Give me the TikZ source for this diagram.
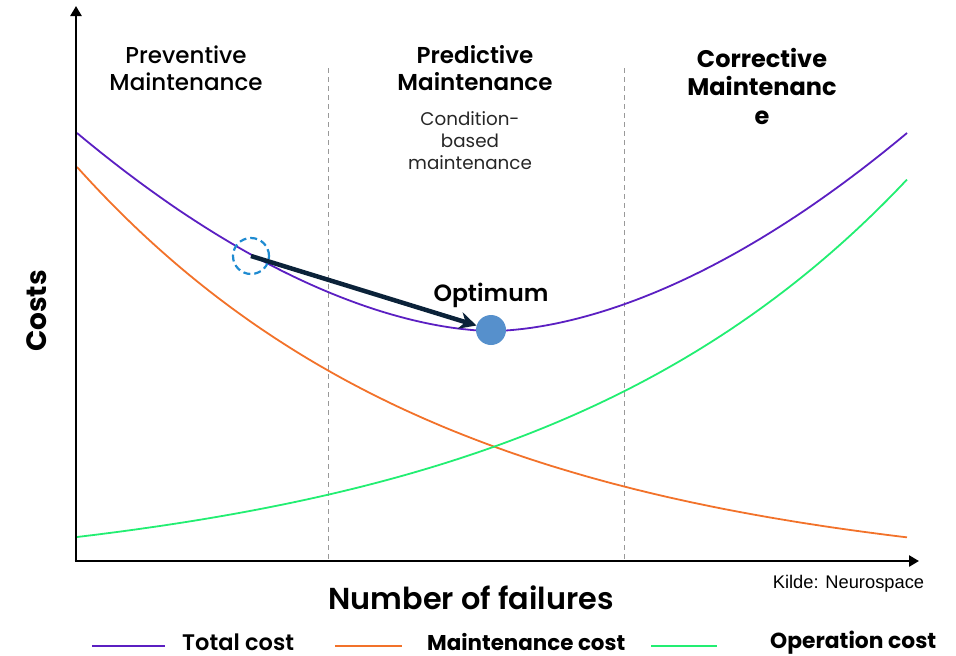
\documentclass[tikz,border=0pt]{standalone}
\usepackage{fontspec}
\setmainfont{Poppins}
\newfontfamily\popmed{Poppins Medium}
\newfontfamily\popsemi{Poppins SemiBold}
\newfontfamily\popbold{Poppins Bold}
\newfontfamily\arialfont{Liberation Sans}
\usetikzlibrary{arrows.meta}
\definecolor{totc}{HTML}{5B1FC2}
\definecolor{mainc}{HTML}{F2722A}
\definecolor{opc}{HTML}{22EE72}
\definecolor{navy}{HTML}{0B2239}
\definecolor{dashblue}{HTML}{1F8BD1}
\definecolor{dotblue}{HTML}{5690CC}
\begin{document}
\begin{tikzpicture}[x=1pt,y=-1pt,
  axis/.style={line width=2.6pt,-{Triangle[length=10pt,width=11pt]}},
  sep/.style={draw=gray!80,line width=0.9pt,dash pattern=on 5pt off 4pt},
  curve/.style={line width=1.8pt},
  head/.style={align=center,inner sep=0pt},
  sub/.style={align=center,font=\fontsize{18.3}{22}\selectfont,text=black!85,inner sep=0pt},
  leg/.style={line width=1.8pt},
  legtext/.style={inner sep=0pt}]
\useasboundingbox (0,0) rectangle (956,656);
% separators
\coordinate (s1t) at (328,68); \coordinate (s1b) at (328,561);
\coordinate (s2t) at (624,68); \coordinate (s2b) at (624,561);
\draw[sep] (s1t) -- (s1b);
\draw[sep] (s2t) -- (s2b);
% curves
\draw[curve,mainc] plot[domain=77:907,samples=120] (\x,{582-415*exp(-0.002689*(\x-77))});
\draw[curve,opc] plot[domain=77:907,samples=120] (\x,{582-45*exp(0.002647*(\x-77))});
\draw[curve,totc] plot[domain=77:907,samples=167] (\x,{331-39*pow((abs(\x-492)+0.01)/164,1.75)});
% axes
\coordinate (o) at (76,561);
\coordinate (ytop) at (76,6);
\coordinate (xend) at (919,561);
\draw[axis] (o) -- (ytop);
\draw[axis] ([xshift=-1.3pt]o) -- (xend);
% headings
\node[head,font=\popmed\fontsize{23}{27}\selectfont] (prev) at (186,68) {Preventive\\Maintenance};
\node[head,font=\popsemi\fontsize{23}{27}\selectfont] (pred) at (475,68) {Predictive\\Maintenance};
\node[sub] (cond) at (470,141) {Condition-\\based\\maintenance};
\node[head,font=\popbold\fontsize{24}{28.5}\selectfont] (corr) at (762,86) {Corrective\\Maintenanc\\e};
% optimum
\node[circle,draw=dashblue,dash pattern=on 7pt off 4pt,line width=2.2pt,minimum size=36pt,inner sep=0pt] (from) at (251,256) {};
\node[circle,fill=dotblue,minimum size=30pt,inner sep=0pt] (opt) at (491,330) {};
\draw[navy,line width=4.5pt,-{Stealth[length=17pt,width=17pt]}] (from.center) -- (opt);
\node[font=\popsemi\fontsize{23.5}{26}\selectfont,inner sep=0pt] (optl) at (491,295) {Optimum};
% axis labels
\node[font=\popbold\fontsize{28}{30}\selectfont,rotate=90,inner sep=0pt] (ylab) at (37,311) {Costs};
\node[font=\popsemi\fontsize{30.3}{34}\selectfont,inner sep=0pt] (xlab) at (471,598) {Number of failures};
\node[font=\arialfont\fontsize{18.3}{20}\selectfont,inner sep=0pt] (kilde) at (848.5,584) {Kilde: Neurospace};
% legend
\coordinate (l1a) at (92,646); \coordinate (l1b) at (165,646);
\coordinate (l2a) at (335,646); \coordinate (l2b) at (402,646);
\coordinate (l3a) at (651,646); \coordinate (l3b) at (717,646);
\draw[leg,totc] (l1a) -- (l1b);
\draw[leg,mainc] (l2a) -- (l2b);
\draw[leg,opc] (l3a) -- (l3b);
\node[legtext,anchor=base west,font=\popsemi\fontsize{22.5}{24}\selectfont] (t1) at (182,650) {Total cost};
\node[legtext,anchor=base west,font=\popbold\fontsize{21.4}{24}\selectfont] (t2) at (427,650) {Maintenance cost};
\node[legtext,anchor=base west,font=\popbold\fontsize{21.8}{24}\selectfont] (t3) at (770,648) {Operation cost};
\end{tikzpicture}
\end{document}
